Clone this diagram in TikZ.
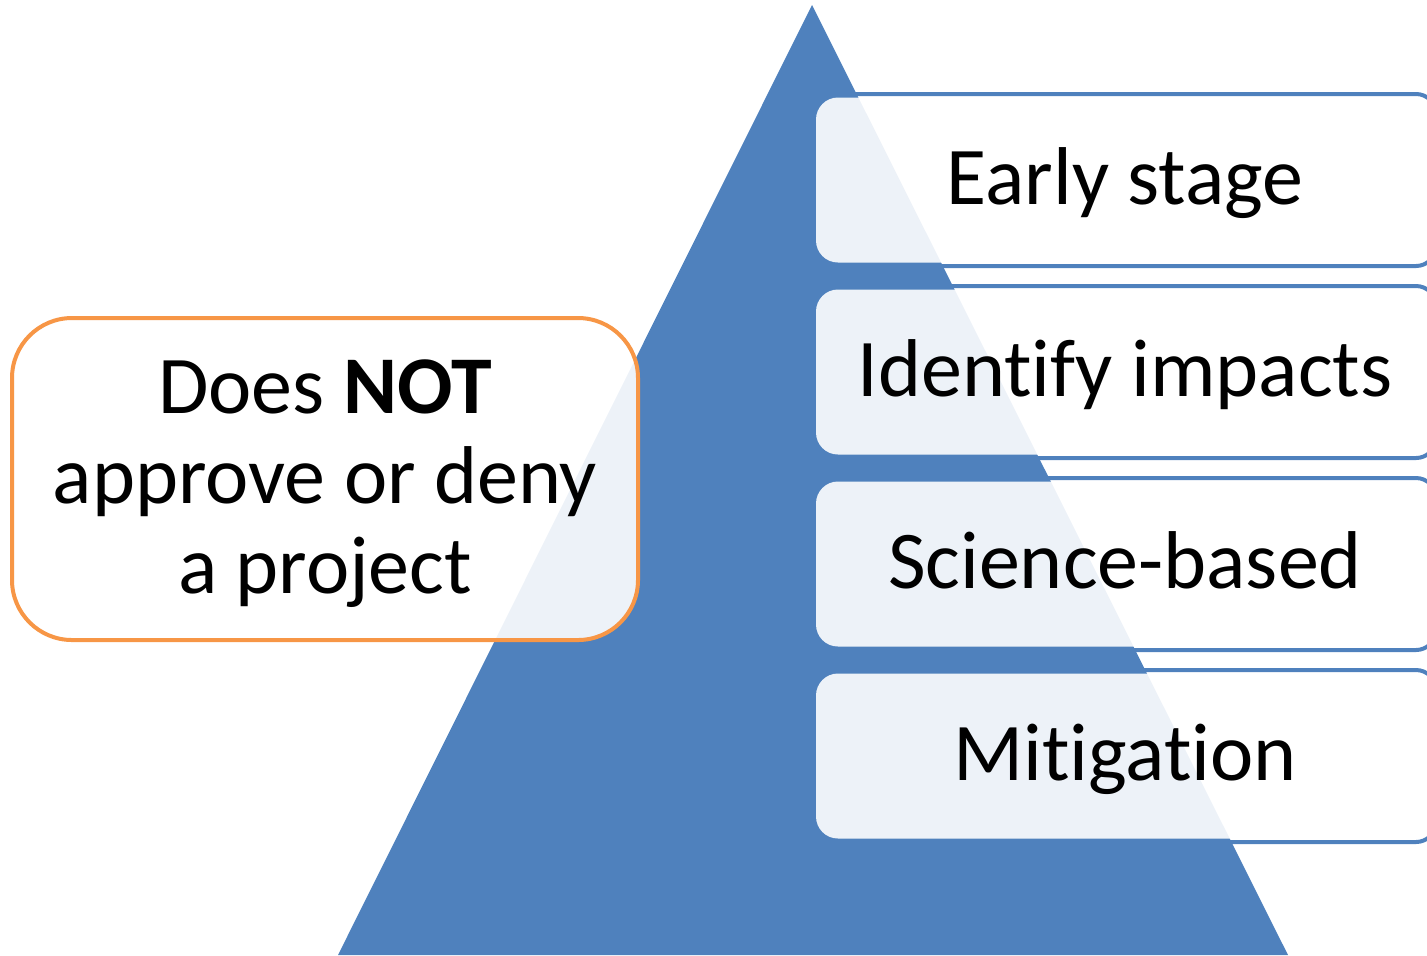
\documentclass[tikz,border=0pt]{standalone}
\usepackage{fontspec}
\setmainfont{Carlito}[RawFeature=-liga]
\definecolor{pyrblue}{HTML}{4F81BD}
\definecolor{notorange}{HTML}{F79646}

\begin{document}
\begin{tikzpicture}[x=0.5pt,y=-0.5pt,
	rim/.style={draw=pyrblue,line width=2pt,rounded corners=10pt,minimum width=318pt,minimum height=86pt,inner sep=0pt},
	stage/.style={fill=white,fill opacity=0.9,text opacity=1,rounded corners=11pt,minimum width=302pt,minimum height=82.5pt,inner sep=0pt,text height=30pt,text depth=6pt,font=\fontsize{41}{45}\selectfont}]
	\useasboundingbox (0,0) rectangle (1427,955);
	% outlines sit behind the pyramid
	\draw (1118,180) node (rim1) [rim] {};
	\draw (1118,372) node (rim2) [rim] {};
	\draw (1118,564) node (rim3) [rim] {};
	\draw (1118,756) node (rim4) [rim] {};
	\fill[pyrblue] (812,5) coordinate (apex) -- (338,955) coordinate (baseL) -- (1288,955) coordinate (baseR) -- cycle;
	\draw (1118,180) node (early) [stage] {};
	\node (earlytxt) [stage,fill=none] at (1125,180) {Early stage};
	\draw (1118,372) node (impacts) [stage] {};
	\node (impactstxt) [stage,fill=none] at (1125,372) {Identify impacts};
	\draw (1118,564) node (science) [stage] {};
	\node (sciencetxt) [stage,fill=none] at (1125,564) {Science-based};
	\draw (1118,756) node (mitig) [stage] {};
	\node (mitigtxt) [stage,fill=none] at (1125,756) {Mitigation};
	\draw (325,479) node (note) [draw=notorange,line width=2pt,fill=white,fill opacity=0.9,text opacity=1,rounded corners=30pt,minimum width=313pt,minimum height=161pt,inner sep=0pt] {};
	\node (notetxt) [align=center,font=\fontsize{41}{45}\selectfont] at (325,484) {Does \textbf{NOT}\\approve or deny\\a project};
\end{tikzpicture}
\end{document}
